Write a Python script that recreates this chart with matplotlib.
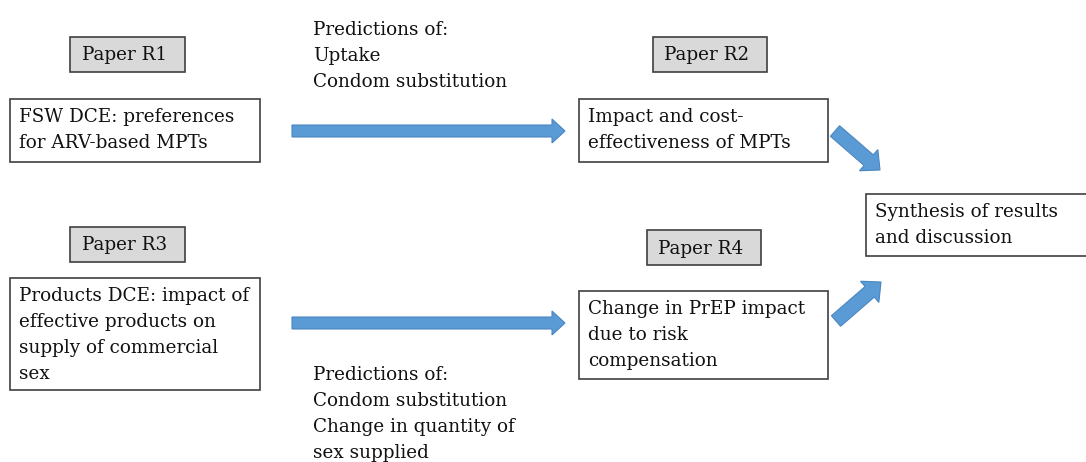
import matplotlib.pyplot as plt
from matplotlib.patches import Rectangle, FancyArrow

plt.rcParams['font.family'] = ['DejaVu Serif']

# text content
paper_labels = ['Paper R1', 'Paper R2', 'Paper R3', 'Paper R4']
study_labels = ['FSW DCE: preferences\nfor ARV-based MPTs',
                'Impact and cost-\neffectiveness of MPTs',
                'Products DCE: impact of\neffective products on\nsupply of commercial\nsex',
                'Change in PrEP impact\ndue to risk\ncompensation',
                'Synthesis of results\nand discussion']
pred_top = 'Predictions of:\nUptake\nCondom substitution'
pred_bottom = 'Predictions of:\nCondom substitution\nChange in quantity of\nsex supplied'

# layout in pixels (x, y, w, h), y measured from top
paper_boxes = [(70, 37, 115, 35), (653, 37, 114, 35), (70, 227, 115, 35), (647, 230, 114, 35)]
study_boxes = [(10, 99, 250, 63), (579, 99, 249, 63), (10, 278, 250, 112),
               (579, 291, 249, 88), (866, 194, 222, 62)]
arrows = [(292, 131, 273, 0, 12, 24, 13), (292, 323, 273, 0, 12, 24, 13),
          (835, 131, 45, 39, 14, 28, 15), (836, 321, 45, -39, 14, 28, 15)]

fig = plt.figure(figsize=(10.86, 4.62), dpi=100)
ax = fig.add_axes([0, 0, 1, 1])
ax.set_xlim(0, 1086)
ax.set_ylim(462, 0)
ax.axis('off')

fs = 13.2
ls = 1.57
for (x, y, w, h), lab in zip(paper_boxes, paper_labels):
    ax.add_patch(Rectangle((x, y), w, h, facecolor='#d9d9d9', edgecolor='#404040', lw=1.2))
    ax.text(x + w / 2 - 3, y + h / 2 + 1, lab, ha='center', va='center', fontsize=fs,
            color='#111111')

for (x, y, w, h), lab in zip(study_boxes, study_labels):
    ax.add_patch(Rectangle((x, y), w, h, facecolor='white', edgecolor='#404040', lw=1.2))
    ax.text(x + 9, y + 9, lab, ha='left', va='top', fontsize=fs, color='#111111',
            linespacing=ls)

for x, y, dx, dy, w, hw, hl in arrows:
    ax.add_patch(FancyArrow(x, y, dx, dy, width=w, head_width=hw, head_length=hl,
                            length_includes_head=True, facecolor='#5b9bd5',
                            edgecolor='#4a86c0', lw=0.8))

ax.text(313, 21, pred_top, ha='left', va='top', fontsize=fs, color='#111111', linespacing=ls)
ax.text(313, 366, pred_bottom, ha='left', va='top', fontsize=fs, color='#111111', linespacing=ls)

fig.savefig('out.png', dpi=100)
